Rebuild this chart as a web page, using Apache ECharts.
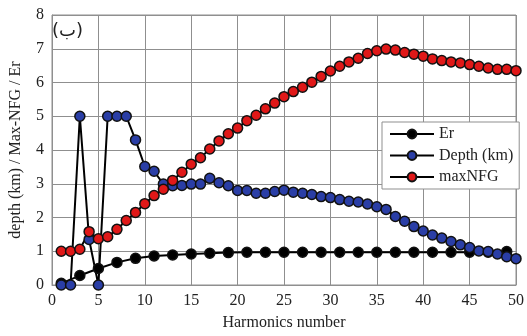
<!DOCTYPE html>
<html>
<head>
<meta charset="utf-8">
<script src="https://cdn.jsdelivr.net/npm/echarts@6/dist/echarts.min.js"></script>
<style>html,body{margin:0;padding:0;background:#fff}#c{width:527px;height:336px}</style>
</head>
<body>
<div id="c"></div>
<script>
var harmonics = [1,2,3,4,5,6,7,8,9,10,11,12,13,14,15,16,17,18,19,20,21,22,23,24,25,26,27,28,29,30,31,32,33,34,35,36,37,38,39,40,41,42,43,44,45,46,47,48,49,50];
var erHarmonics = [1,3,5,7,9,11,13,15,17,19,21,23,25,27,29,31,33,35,37,39,41,43,45,47,49];
var erValues = [0.05,0.28,0.49,0.67,0.79,0.86,0.89,0.92,0.94,0.96,0.97,0.97,0.97,0.97,0.97,0.97,0.97,0.97,0.97,0.97,0.97,0.97,0.97,0.97,0.99];
var depthValues = [0,0,5,1.35,0,5,5,5,4.3,3.51,3.37,2.99,2.94,2.95,2.99,2.99,3.16,3.03,2.94,2.8,2.8,2.72,2.72,2.77,2.81,2.75,2.72,2.68,2.62,2.59,2.53,2.48,2.46,2.4,2.32,2.24,2.03,1.89,1.73,1.6,1.48,1.39,1.29,1.19,1.11,1.01,0.99,0.92,0.84,0.78];
var maxNFGValues = [1.0,1.0,1.06,1.58,1.37,1.43,1.65,1.91,2.15,2.41,2.65,2.84,3.1,3.34,3.58,3.77,4.03,4.27,4.48,4.65,4.87,5.03,5.22,5.39,5.58,5.73,5.86,6.01,6.18,6.34,6.48,6.61,6.72,6.86,6.94,6.99,6.96,6.89,6.84,6.78,6.7,6.65,6.61,6.58,6.53,6.48,6.43,6.39,6.39,6.35];
var seriesNames = ['Er','Depth (km)','maxNFG'];
var xTitle = 'Harmonics number';
var yTitle = 'depth (km) / Max-NFG / Er';
var panelLabel = '(ب)';

function pairs(xs, ys){ return xs.map(function(x,i){ return [x, ys[i]]; }); }

var font = "'Liberation Serif','DejaVu Serif',serif";
var chart = echarts.init(document.getElementById('c'), null, {renderer:'canvas'});
function mk(name, data, color){
  return {
    name: name, type: 'line', data: data,
    symbol: 'circle', symbolSize: 10,
    lineStyle: {color: '#000', width: 2},
    itemStyle: {color: color, borderColor: '#111', borderWidth: 1.5},
    animation: false
  };
}
chart.setOption({
  backgroundColor: '#fff',
  animation: false,
  grid: {left: 43, right: 8, top: 15, bottom: 42, show: true, borderColor: '#8f8f8f', borderWidth: 1},
  xAxis: {
    type: 'value', min: 0, max: 50, interval: 5,
    name: xTitle, nameLocation: 'middle', nameGap: 30,
    nameTextStyle: {fontFamily: font, fontSize: 16, color: '#222'},
    axisLine: {show: true, lineStyle: {color: '#8f8f8f'}},
    axisTick: {show: false},
    axisLabel: {fontFamily: font, fontSize: 16, color: '#222', margin: 8},
    splitLine: {show: true, lineStyle: {color: '#8f8f8f', width: 1}}
  },
  yAxis: {
    type: 'value', min: 0, max: 8, interval: 1,
    name: yTitle, nameLocation: 'middle', nameGap: 28,
    nameTextStyle: {fontFamily: font, fontSize: 16, color: '#222'},
    axisLine: {show: true, lineStyle: {color: '#8f8f8f'}},
    axisTick: {show: false},
    axisLabel: {fontFamily: font, fontSize: 16, color: '#222', margin: 8},
    splitLine: {show: true, lineStyle: {color: '#8f8f8f', width: 1}}
  },
  legend: {
    orient: 'vertical', left: 382, top: 122,
    backgroundColor: '#fff', borderColor: '#8f8f8f', borderWidth: 1,
    padding: [4, 6, 4, 7], itemGap: 5.5, itemWidth: 44, itemHeight: 11,
    textStyle: {fontFamily: font, fontSize: 16, lineHeight: 16, color: '#222'},
    data: seriesNames
  },
  graphic: [{
    type: 'text', left: 52, top: 22,
    style: {text: panelLabel, fontFamily: "'DejaVu Sans','Noto Sans',sans-serif", fontSize: 18, fill: '#222'}
  }],
  series: [
    mk(seriesNames[0], pairs(erHarmonics, erValues), '#000'),
    mk(seriesNames[1], pairs(harmonics, depthValues), '#2a3ea6'),
    mk(seriesNames[2], pairs(harmonics, maxNFGValues), '#e01818')
  ]
});
</script>
</body>
</html>
